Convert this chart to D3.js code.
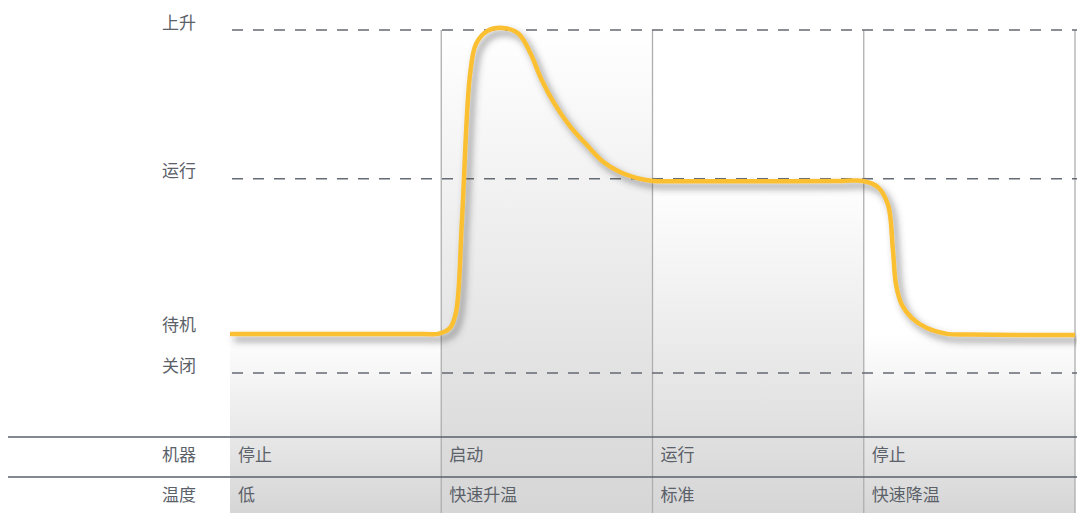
<!DOCTYPE html>
<html>
<head>
<meta charset="utf-8">
<script src="https://cdn.jsdelivr.net/npm/d3@7"></script>
<style>
  body { margin: 0; background: #fff; }
  text { font-family: "Noto Sans CJK SC", "Noto Sans", sans-serif; font-size: 17px; fill: #5b6169; }
</style>
</head>
<body>
<div class="chart"></div>
<script>
// machine state over time

// levels on the y axis
const levelNames = ['关闭', '待机', '运行', '上升'];
const levelValues = [0, 11.7, 56.6, 100];
const dashedLevels = [0, 56.6, 100];

// stages (columns)
const stageBounds = [0, 100, 200, 300, 400];
const machineRow = ['停止', '启动', '运行', '停止'];
const tempRow = ['低', '快速升温', '标准', '快速降温'];
const rowNames = ['机器', '温度'];
const shadeTop = [11.5, 100, 56.6, 11.5];

// curve
const curveT = [0, 50, 92, 98.5, 104.1, 107.0, 109.8, 113.6, 116.5, 122.0, 129.2, 136.5, 142.0, 147.5, 153.5, 160.9, 169.0, 176.6, 184.6, 192.7, 200.2, 210, 250, 290, 299.6, 306.7, 311.5, 313.8, 315.3, 318.1, 322.8, 329.9, 339.4, 350, 400];
const curveV = [11.4, 11.4, 11.4, 11.4, 13.1, 17.8, 44.6, 86.9, 96.0, 99.8, 100.6, 99.0, 93.5, 85.5, 78.6, 72.0, 66.4, 61.6, 58.6, 56.8, 56.0, 55.9, 55.9, 56.0, 56.0, 54.2, 49.0, 35.9, 25.7, 19.8, 16.0, 13.1, 11.4, 11.2, 11.1];

const width = 1077, height = 513;

const svg = d3.select('.chart')
    .append('svg')
    .attr('width', width)
    .attr('height', height);

const x = d3.scaleLinear().domain([0, 400]).range([230, 1075]);
const y = d3.scaleLinear().domain([0, 100]).range([373, 30]);

const tableTop = 437, rowH = 40;

const defs = svg.append('defs');
const grad = defs.append('linearGradient')
    .attr('id', 'shade')
    .attr('x1', 0).attr('y1', 0).attr('x2', 0).attr('y2', 1);
grad.append('stop').attr('offset', '0%').attr('stop-color', '#ffffff');
grad.append('stop').attr('offset', '100%').attr('stop-color', '#d6d6d6');

const shadow = defs.append('filter')
    .attr('id', 'shadow')
    .attr('x', '-10%').attr('y', '-10%').attr('width', '130%').attr('height', '130%');
shadow.append('feDropShadow')
    .attr('dx', 4).attr('dy', 5)
    .attr('stdDeviation', 3.5)
    .attr('flood-color', '#444')
    .attr('flood-opacity', 0.6);

// column shading
svg.selectAll('.shade')
    .data(shadeTop)
    .enter()
    .append('rect')
    .attr('class', 'shade')
    .attr('x', (d, i) => x(stageBounds[i]))
    .attr('y', d => y(d))
    .attr('width', (d, i) => x(stageBounds[i + 1]) - x(stageBounds[i]))
    .attr('height', d => height - y(d))
    .attr('fill', 'url(#shade)');

// vertical stage lines
svg.selectAll('.vline')
    .data(stageBounds.slice(1))
    .enter()
    .append('line')
    .attr('x1', d => x(d)).attr('x2', d => x(d))
    .attr('y1', y(100)).attr('y2', height)
    .attr('stroke', '#aeaeae')
    .attr('stroke-width', 1.3);

// dashed level lines
svg.selectAll('.dash')
    .data(dashedLevels)
    .enter()
    .append('line')
    .attr('x1', 232).attr('x2', width)
    .attr('y1', d => y(d)).attr('y2', d => y(d))
    .attr('stroke', '#656b73')
    .attr('stroke-width', 1.5)
    .attr('stroke-dasharray', '11,10');

// level labels
svg.selectAll('.lvl')
    .data(levelNames)
    .enter()
    .append('text')
    .attr('x', 162)
    .attr('y', (d, i) => y(levelValues[i]) - 6)
    .attr('dominant-baseline', 'middle')
    .text(d => d);

// table lines
svg.selectAll('.hline')
    .data([0, 1])
    .enter()
    .append('line')
    .attr('x1', 8).attr('x2', width)
    .attr('y1', d => tableTop + d * rowH).attr('y2', d => tableTop + d * rowH)
    .attr('stroke', '#5a616a')
    .attr('stroke-width', 1.5);

// row labels
svg.selectAll('.rowname')
    .data(rowNames)
    .enter()
    .append('text')
    .attr('x', 162)
    .attr('y', (d, i) => tableTop + rowH * i + 19)
    .attr('dominant-baseline', 'middle')
    .text(d => d);

[machineRow, tempRow].forEach((row, r) => {
    svg.selectAll('.cell' + r)
        .data(row)
        .enter()
        .append('text')
        .attr('x', (d, i) => x(stageBounds[i]) + 8)
        .attr('y', tableTop + rowH * r + 19)
        .attr('dominant-baseline', 'middle')
        .text(d => d);
});

// the curve
const pts = curveT.map((t, i) => [t, curveV[i]]);
const line = d3.line()
    .x(d => x(d[0]))
    .y(d => y(d[1]))
    .curve(d3.curveCatmullRom.alpha(0.5));

svg.append('path')
    .datum(pts)
    .attr('d', line)
    .attr('fill', 'none')
    .attr('stroke', '#fbbf33')
    .attr('stroke-width', 4.5)
    .attr('stroke-linejoin', 'round')
    .attr('filter', 'url(#shadow)');
</script>
</body>
</html>
